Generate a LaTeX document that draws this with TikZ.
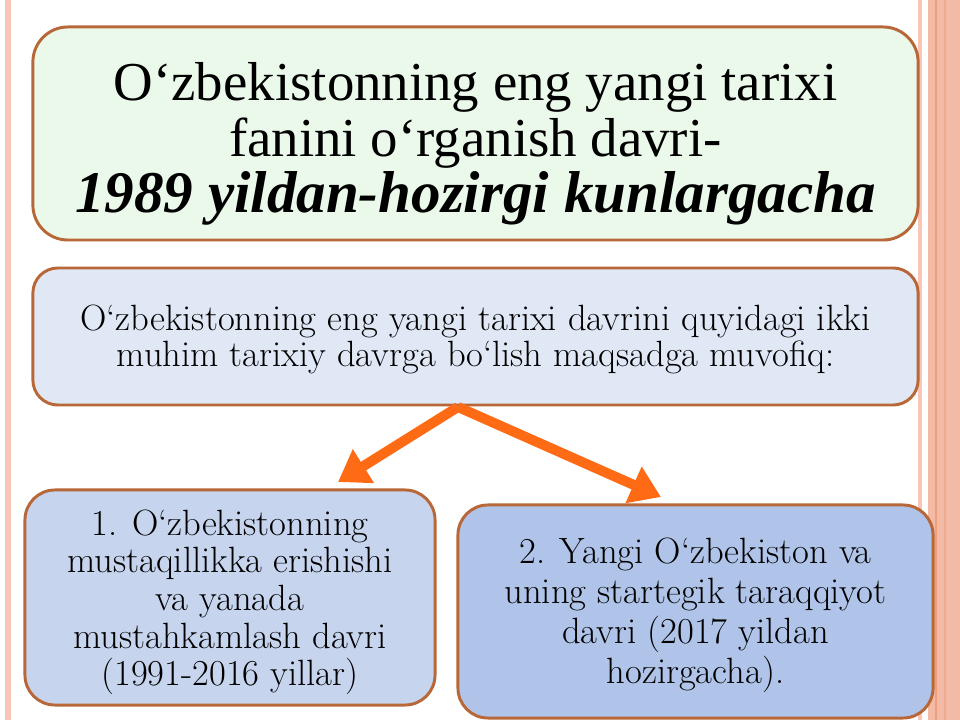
\documentclass[tikz,border=0pt]{standalone}
\usepackage{fontspec}
\newfontfamily\tnr{Liberation Serif}
\usetikzlibrary{arrows.meta}
\definecolor{edgebrown}{RGB}{184,104,56}
\definecolor{boxgreen}{RGB}{235,249,234}
\definecolor{boxpale}{RGB}{224,232,246}
\definecolor{boxmid}{RGB}{198,212,238}
\definecolor{boxdeep}{RGB}{175,196,232}
\definecolor{arroworange}{RGB}{255,106,20}
\definecolor{stripepink}{RGB}{250,196,182}
\definecolor{stripesalmon}{RGB}{243,186,166}
\definecolor{stripedark}{RGB}{238,160,126}
\begin{document}
\begin{tikzpicture}[x=0.025cm,y=-0.025cm,
  panel/.style={draw=edgebrown,line width=2.1pt,align=center,inner sep=0pt},
  flow/.style={draw=arroworange,line width=7.1pt,-{Triangle[length=0.75cm,width=0.95cm]}}]
\useasboundingbox (0,0) rectangle (960,720);
\fill[white] (0,0) rectangle (960,720);
% decorative stripes
\fill[stripepink] (5,0) rectangle (11,720);
\fill[stripepink] (918,0) rectangle (922,720);
\fill[stripesalmon] (928,0) rectangle (960,720);
\fill[stripedark] (935,0) rectangle (937,720);
\fill[stripedark!60!stripesalmon] (944,0) rectangle (946,720);
% boxes
\node[panel,fill=boxgreen,rounded corners=0.875cm,minimum width=22.125cm,minimum height=5.325cm,
  font={\tnr\fontsize{39}{40}\selectfont}] (title) at (475.5,133.5)
  {\rule{0pt}{42pt}O‘zbekistonning eng yangi tarixi\\ fanini o‘rganish davri-\\ {\bfseries\itshape\fontsize{42}{40}\selectfont 1989 yildan-hozirgi kunlargacha}};
\node[panel,fill=boxpale,rounded corners=0.625cm,minimum width=22.125cm,minimum height=3.425cm,
  font={\fontsize{26}{25.6}\selectfont}] (intro) at (475.5,336.5)
  {\rule{0pt}{22pt}O‘zbekistonning eng yangi tarixi davrini quyidagi ikki\\ muhim tarixiy davrga bo‘lish maqsadga muvofiq:};
\node[panel,fill=boxmid,rounded corners=0.75cm,minimum width=10.25cm,minimum height=5.375cm,
  font={\fontsize{26}{26.7}\selectfont}] (first) at (230,597.5)
  {\rule{0pt}{25pt}1. O‘zbekistonning\\ mustaqillikka erishishi\\ va yanada\\ mustahkamlash davri\\ (1991-2016 yillar)};
\node[panel,fill=boxdeep,rounded corners=0.75cm,minimum width=11.875cm,minimum height=5.325cm,
  font={\fontsize{26}{28.4}\selectfont}] (second) at (695.5,611.5)
  {\rule{0pt}{24pt}2. Yangi O‘zbekiston va\\ uning startegik taraqqiyot\\ davri (2017 yildan\\ hozirgacha).};
% arrows
\coordinate (fork) at (458,407);
\coordinate (tipL) at (338,482);
\coordinate (tipR) at (661,497);
\draw[flow] (fork) -- (tipL);
\draw[flow] (fork) -- (tipR);
\end{tikzpicture}
\end{document}
